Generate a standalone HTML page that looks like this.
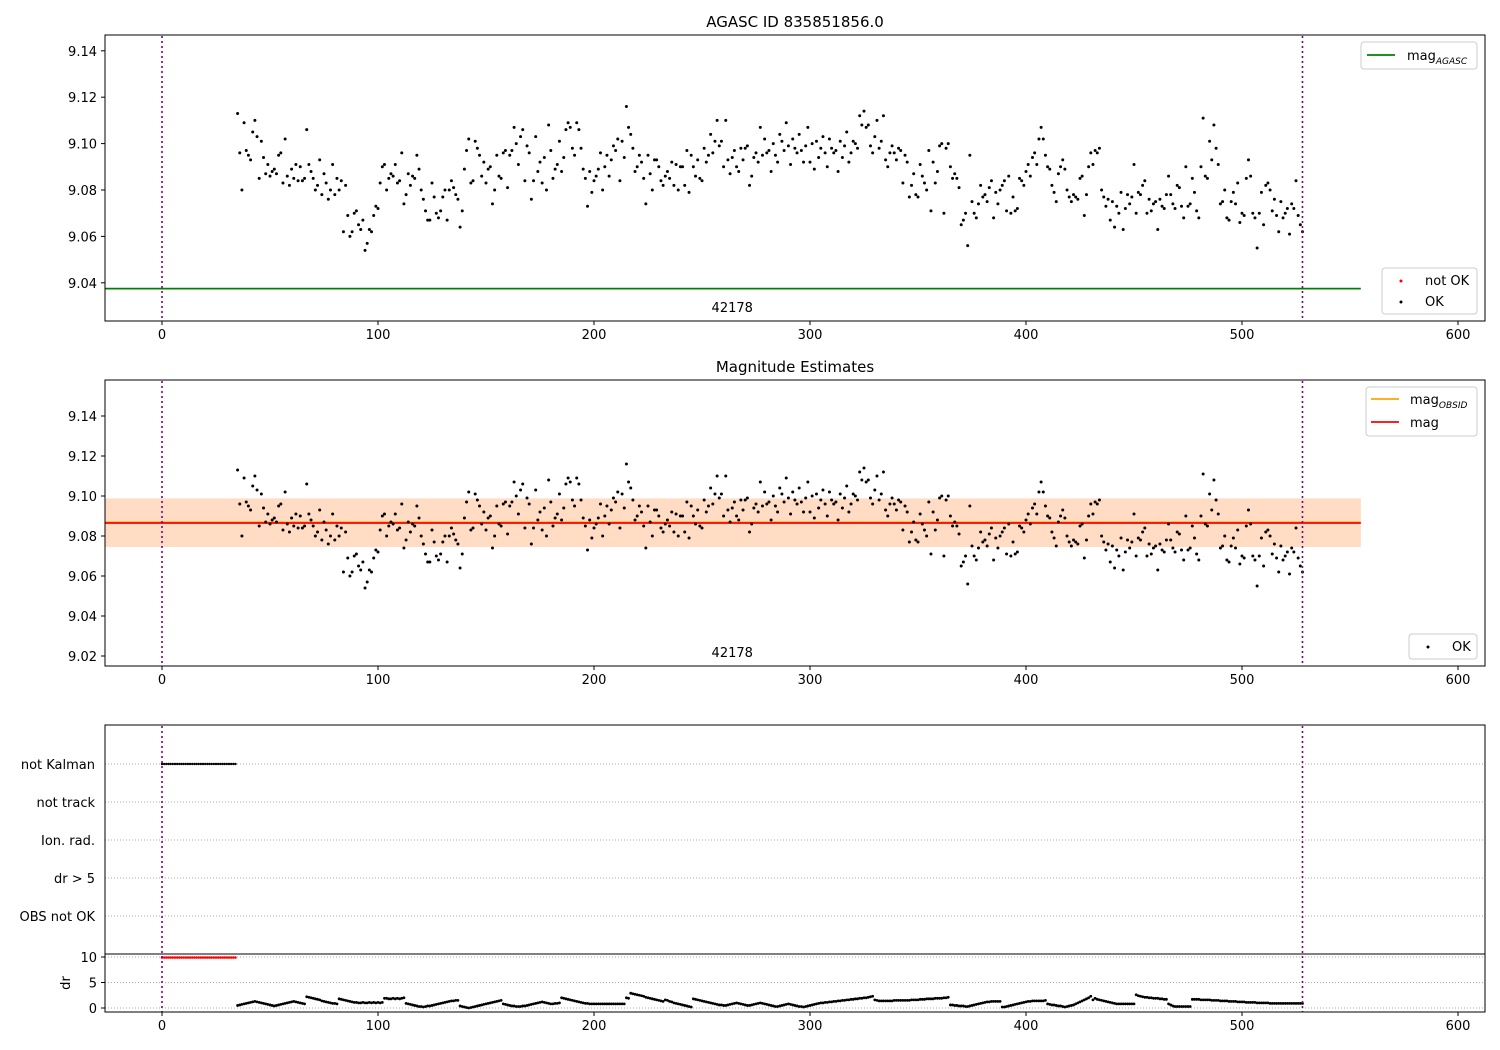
<!DOCTYPE html>
<html><head><meta charset="utf-8"><style>
body{margin:0;background:#fff}
svg{display:block;font-family:"DejaVu Sans","Liberation Sans",sans-serif}
</style></head><body>
<svg id="chart" width="1500" height="1050" viewBox="0 0 1500 1050" xmlns="http://www.w3.org/2000/svg">
<rect width="1500" height="1050" fill="#fff"/>
<g id="g"></g>
</svg>
<script>
const xStart = 35;
const magValues = [
9.113,9.096,9.080,9.109,9.097,9.095,9.093,9.105,9.110,9.103,
9.085,9.101,9.094,9.087,9.091,9.086,9.088,9.089,9.087,9.095,
9.096,9.083,9.102,9.086,9.082,9.089,9.085,9.091,9.084,9.090,
9.084,9.085,9.106,9.091,9.088,9.085,9.080,9.082,9.093,9.078,
9.087,9.083,9.076,9.080,9.091,9.078,9.085,9.080,9.084,9.062,
9.082,9.069,9.060,9.062,9.070,9.071,9.065,9.063,9.067,9.054,
9.057,9.063,9.062,9.069,9.073,9.072,9.083,9.090,9.091,9.080,
9.085,9.087,9.086,9.091,9.083,9.084,9.096,9.074,9.078,9.087,
9.082,9.086,9.085,9.095,9.089,9.080,9.076,9.071,9.067,9.067,
9.083,9.077,9.070,9.068,9.071,9.077,9.080,9.067,9.080,9.084,
9.081,9.078,9.076,9.064,9.071,9.089,9.097,9.102,9.083,9.084,
9.101,9.098,9.095,9.086,9.092,9.083,9.089,9.090,9.074,9.080,
9.095,9.086,9.085,9.096,9.097,9.081,9.095,9.097,9.107,9.100,
9.091,9.103,9.106,9.084,9.099,9.096,9.076,9.084,9.103,9.088,
9.092,9.083,9.094,9.080,9.108,9.097,9.085,9.089,9.091,9.101,
9.088,9.094,9.106,9.109,9.107,9.098,9.095,9.109,9.106,9.098,
9.089,9.085,9.073,9.088,9.079,9.084,9.086,9.089,9.096,9.080,
9.090,9.095,9.086,9.093,9.099,9.097,9.102,9.084,9.101,9.094,
9.116,9.107,9.104,9.098,9.088,9.090,9.095,9.092,9.085,9.074,
9.095,9.087,9.080,9.093,9.093,9.090,9.084,9.082,9.086,9.088,
9.085,9.092,9.082,9.091,9.080,9.090,9.090,9.082,9.097,9.079,
9.095,9.090,9.086,9.093,9.085,9.084,9.098,9.092,9.095,9.104,
9.096,9.101,9.110,9.099,9.101,9.090,9.110,9.093,9.087,9.094,
9.097,9.090,9.088,9.098,9.093,9.098,9.099,9.082,9.086,9.094,
9.096,9.092,9.107,9.095,9.102,9.096,9.097,9.088,9.100,9.095,
9.092,9.104,9.101,9.097,9.109,9.099,9.091,9.102,9.098,9.096,
9.104,9.097,9.092,9.099,9.107,9.092,9.100,9.089,9.101,9.094,
9.098,9.103,9.096,9.090,9.102,9.098,9.096,9.097,9.088,9.101,
9.094,9.099,9.105,9.092,9.096,9.101,9.100,9.098,9.112,9.108,
9.114,9.107,9.108,9.099,9.096,9.103,9.110,9.098,9.101,9.112,
9.093,9.090,9.096,9.099,9.096,9.093,9.098,9.097,9.083,9.095,
9.092,9.077,9.082,9.087,9.078,9.077,9.091,9.086,9.083,9.080,
9.097,9.071,9.092,9.083,9.088,9.099,9.100,9.070,9.098,9.100,
9.090,9.085,9.087,9.085,9.081,9.065,9.067,9.070,9.056,9.095,
9.075,9.070,9.068,9.074,9.082,9.077,9.078,9.075,9.081,9.084,
9.068,9.079,9.074,9.080,9.082,9.084,9.071,9.086,9.070,9.077,
9.071,9.072,9.085,9.084,9.082,9.088,9.091,9.086,9.094,9.096,
9.091,9.102,9.107,9.102,9.095,9.090,9.089,9.082,9.079,9.075,
9.087,9.090,9.093,9.089,9.080,9.077,9.075,9.078,9.077,9.076,
9.085,9.086,9.069,9.078,9.090,9.096,9.091,9.097,9.096,9.098,
9.080,9.077,9.073,9.076,9.067,9.075,9.064,9.073,9.070,9.079,
9.063,9.072,9.078,9.074,9.077,9.091,9.070,9.079,9.078,9.082,
9.084,9.070,9.076,9.071,9.074,9.075,9.063,9.076,9.073,9.072,
9.078,9.086,9.078,9.074,9.072,9.082,9.081,9.073,9.068,9.090,
9.073,9.074,9.085,9.079,9.071,9.068,9.090,
9.111,9.086,9.085,9.101,9.093,9.108,9.098,9.091,9.074,9.075,
9.080,9.068,9.067,9.075,9.079,9.074,9.083,9.066,9.070,9.069,
9.085,9.093,9.086,9.070,9.068,9.055,9.070,9.079,9.065,9.082,
9.083,9.080,9.071,9.076,9.069,9.062,9.075,9.068,9.070,9.072,
9.061,9.074,9.072,9.084,9.069,9.065,9.062];
const drValues = [
0.5,0.6,0.7,0.8,0.9,1.0,1.1,1.2,1.3,1.2,
1.1,1.0,0.9,0.8,0.7,0.6,0.5,0.4,0.5,0.6,
0.7,0.8,0.9,1.0,1.1,1.2,1.3,1.2,1.1,1.0,
0.9,0.8,2.2,2.1,2.0,1.9,1.8,1.7,1.6,1.4,
1.3,1.2,1.1,1.0,0.9,0.9,0.8,1.8,1.7,1.6,
1.5,1.4,1.3,1.2,1.1,1.1,1.0,1.0,1.1,1.0,
1.0,1.1,1.0,1.1,1.0,1.1,1.0,1.1,1.9,1.9,
1.8,1.8,1.9,1.8,1.9,1.8,1.9,2.0,0.9,0.8,
0.7,0.6,0.5,0.4,0.3,0.3,0.2,0.3,0.4,0.4,
0.5,0.6,0.7,0.8,0.9,1.0,1.1,1.2,1.3,1.4,
1.4,1.5,1.5,0.4,0.3,0.2,0.1,0.0,0.1,0.2,
0.3,0.4,0.5,0.6,0.7,0.8,0.9,1.0,1.1,1.2,
1.3,1.4,1.5,0.8,0.7,0.6,0.5,0.4,0.4,0.3,
0.3,0.3,0.4,0.4,0.5,0.6,0.7,0.8,0.9,1.0,
1.1,1.2,1.1,1.0,0.9,0.8,0.8,0.9,0.9,1.0,
2.0,1.9,1.8,1.7,1.6,1.5,1.4,1.3,1.2,1.1,
1.0,0.9,0.9,0.8,0.8,0.8,0.8,0.8,0.8,0.8,
0.8,0.8,0.8,0.8,0.8,0.8,0.8,0.8,0.8,0.8,
2.0,1.9,2.9,2.8,2.7,2.6,2.5,2.4,2.3,2.1,
2.0,1.9,1.8,1.7,1.6,1.5,1.4,1.3,1.6,1.5,
1.3,1.2,1.0,0.9,0.8,0.7,0.6,0.5,0.4,0.3,
0.2,1.8,1.7,1.6,1.5,1.4,1.3,1.2,1.1,1.0,
0.9,0.8,0.7,0.6,0.6,0.5,0.5,0.6,0.7,0.8,
0.9,1.0,0.9,0.8,0.7,0.6,0.5,0.5,0.6,0.7,
0.8,0.9,1.0,0.9,0.8,0.7,0.6,0.5,0.4,0.3,
0.3,0.4,0.5,0.6,0.7,0.8,0.7,0.6,0.5,0.4,
0.3,0.3,0.2,0.3,0.4,0.5,0.6,0.7,0.8,0.9,
1.0,1.0,1.1,1.1,1.2,1.2,1.3,1.3,1.4,1.4,
1.5,1.5,1.6,1.6,1.7,1.7,1.8,1.8,1.9,1.9,
2.0,2.0,2.1,2.2,2.3,1.6,1.5,1.4,1.4,1.4,
1.4,1.4,1.4,1.4,1.5,1.5,1.5,1.5,1.5,1.5,
1.5,1.5,1.6,1.6,1.6,1.6,1.7,1.7,1.7,1.8,
1.8,1.8,1.8,1.9,1.9,1.9,1.9,2.0,2.0,2.1,
0.6,0.6,0.5,0.5,0.4,0.4,0.4,0.3,0.3,0.4,
0.5,0.6,0.7,0.8,0.9,1.0,1.1,1.2,1.2,1.3,
1.3,1.3,1.3,1.3,0.2,0.2,0.3,0.4,0.5,0.6,
0.7,0.8,0.9,1.0,1.1,1.2,1.3,1.3,1.4,1.4,
1.4,1.4,1.4,1.4,1.5,0.8,0.7,0.6,0.6,0.5,
0.4,0.4,0.3,0.2,0.3,0.4,0.5,0.6,0.8,1.0,
1.2,1.4,1.6,1.8,2.0,2.3,1.6,1.9,1.7,1.6,
1.5,1.4,1.3,1.2,1.1,1.0,0.9,0.8,0.8,0.8,
0.8,0.8,0.8,0.8,0.8,0.8,2.6,2.4,2.3,2.2,
2.1,2.1,2.0,2.0,1.9,1.9,1.9,1.8,1.8,1.7,
1.7,0.8,0.6,0.4,0.3,0.3,0.3,0.3,0.3,0.3,
0.3,0.3,1.7,1.7,1.7,1.7,1.6,1.6,1.6,1.6,
1.6,1.5,1.5,1.5,1.5,1.4,1.4,1.4,1.4,1.3,
1.3,1.3,1.3,1.2,1.2,1.2,1.2,1.1,1.1,1.1,
1.1,1.1,1.0,1.0,1.0,1.0,1.0,1.0,0.9,0.9,
0.9,0.9,0.9,0.9,0.9,0.9,0.9,0.9,0.9,0.9,
0.9,0.9,0.9,0.9];
const notKalmanStart = 0, notKalmanEnd = 34;
const magAgasc = 9.0375;
const magObsid = 9.0868, magMean = 9.0865, magBandLow = 9.0745, magBandHigh = 9.0988;
const obsLines = [0, 528];
const xTicks = [0,100,200,300,400,500,600];
const y1Ticks = [9.04,9.06,9.08,9.10,9.12,9.14];
const y2Ticks = [9.02,9.04,9.06,9.08,9.10,9.12,9.14];
const flagLabels = ["not Kalman","not track","Ion. rad.","dr > 5","OBS not OK"];
const drTicks = [0,5,10];
const obsidLabel = "42178";

const NS="http://www.w3.org/2000/svg";
const G=document.getElementById('g');
function el(t,a,p){const e=document.createElementNS(NS,t);for(const k in a)e.setAttribute(k,a[k]);(p||G).appendChild(e);return e;}
const X=v=>162+v*2.16;
const Y1=v=>190-(v-9.08)*2320;
const Y2=v=>536-(v-9.08)*2000;
const YD=v=>1008-v*5.1;
const L=105,R=1485;
function frame(t,b,name){const r=el('rect',{x:L,y:t,width:R-L,height:b-t,fill:'none',stroke:'#000','stroke-width':1});}
function xAxis(b,name){const g=el('g',{});
 xTicks.forEach(v=>{el('line',{x1:X(v),x2:X(v),y1:b,y2:b+4,stroke:'#000'},g);const t=el('text',{x:X(v),y:b+18,'text-anchor':'middle','font-size':13},g);t.textContent=v;});}
function yAxis(ticks,f,name,fmt){const g=el('g',{});
 ticks.forEach(v=>{el('line',{x1:L-4,x2:L,y1:f(v),y2:f(v),stroke:'#000'},g);const t=el('text',{x:L-8,y:f(v)+5,'text-anchor':'end','font-size':13},g);t.textContent=fmt(v);});}
function title(txt,y,name){const t=el('text',{x:795,y:y,'text-anchor':'middle','font-size':15});t.textContent=txt;}
function vlines(t,b){obsLines.forEach(v=>{const l=el('line',{x1:X(v),x2:X(v),y1:t,y2:b,stroke:'#800080','stroke-width':1.6,'stroke-dasharray':'2,3'});});}
function dots(f,name){const g=el('g',{});
 magValues.forEach((v,i)=>{el('circle',{cx:X(xStart+i),cy:f(v),r:1.5,fill:'#000'},g);});}
function legend(x,y,w,h,name){const r=el('rect',{x:x,y:y,width:w,height:h,rx:3,fill:'#fff','fill-opacity':0.8,stroke:'#ccc'});}
function ltext(x,y,txt,sub){const t=el('text',{x:x,y:y,'font-size':13});t.textContent=txt;if(sub){const s=el('tspan',{'font-size':9,'font-style':'italic',dy:4},t);s.textContent=sub;}return t;}

// Panel 1
title("AGASC ID 835851856.0",27,'top-chart-title');
const ag=el('line',{x1:L,x2:X(555),y1:Y1(magAgasc),y2:Y1(magAgasc),stroke:'#008000','stroke-width':1.8});

dots(Y1,'top-ok-points');
vlines(36,321);
frame(35,321,'top-plot-area');xAxis(321,'top-x-axis');yAxis(y1Ticks,Y1,'top-y-axis',v=>v.toFixed(2));
let t=el('text',{x:X(264),y:312,'text-anchor':'middle','font-size':13});t.textContent=obsidLabel;
legend(1361,42,116,27,'top-legend');
el('line',{x1:1367,x2:1395,y1:55,y2:55,stroke:'#008000','stroke-width':1.8});ltext(1407,60,'mag','AGASC');
legend(1382,268,95,46,'top-status-legend');
el('circle',{cx:1401,cy:281,r:1.5,fill:'#f00'});ltext(1425,285,'not OK');
el('circle',{cx:1401,cy:302,r:1.5,fill:'#000'});ltext(1425,306,'OK');

// Panel 2
title("Magnitude Estimates",372,'middle-chart-title');
const bp=el('rect',{x:L,y:Y2(magBandHigh),width:X(555)-L,height:Y2(magBandLow)-Y2(magBandHigh),fill:'#ff0000','fill-opacity':0.1});
const bo=el('rect',{x:L,y:Y2(magBandHigh),width:X(555)-L,height:Y2(magBandLow)-Y2(magBandHigh),fill:'#ffa500','fill-opacity':0.15});
const lo=el('line',{x1:L,x2:X(555),y1:Y2(magObsid),y2:Y2(magObsid),stroke:'#ffa500','stroke-width':1.8});
const lm=el('line',{x1:L,x2:X(555),y1:Y2(magMean),y2:Y2(magMean),stroke:'#f00','stroke-width':1.8});
dots(Y2,'middle-ok-points');
vlines(381,666);
frame(380,666,'middle-plot-area');xAxis(666,'middle-x-axis');yAxis(y2Ticks,Y2,'middle-y-axis',v=>v.toFixed(2));
t=el('text',{x:X(264),y:657,'text-anchor':'middle','font-size':13});t.textContent=obsidLabel;
legend(1366,387,111,49,'middle-legend');
el('line',{x1:1371,x2:1399,y1:399,y2:399,stroke:'#ffa500','stroke-width':1.8});ltext(1410,404,'mag','OBSID');
el('line',{x1:1371,x2:1399,y1:422,y2:422,stroke:'#f00','stroke-width':1.8});ltext(1410,427,'mag');
legend(1409,634,68,25,'middle-status-legend');
el('circle',{cx:1428,cy:647,r:1.5,fill:'#000'});ltext(1452,651,'OK');

// Panel 3 flags
const flagY=i=>764+i*38;
flagLabels.forEach((s,i)=>{el('line',{x1:L,x2:R,y1:flagY(i),y2:flagY(i),stroke:'#aaa','stroke-dasharray':'1,2'});
 const tt=el('text',{x:L-10,y:flagY(i)+5,'text-anchor':'end','font-size':13});tt.textContent=s;});
const nk=el('g',{});
for(let x=notKalmanStart;x<=notKalmanEnd;x++)el('circle',{cx:X(x),cy:flagY(0),r:1.2,fill:'#000'},nk);
drTicks.forEach(v=>el('line',{x1:L,x2:R,y1:YD(v),y2:YD(v),stroke:'#aaa','stroke-dasharray':'1,2'}));
const dd=el('g',{});
drValues.forEach((v,i)=>el('circle',{cx:X(xStart+i),cy:YD(v),r:1.4,fill:'#000'},dd));
const dr=el('g',{});
for(let x=notKalmanStart;x<=notKalmanEnd;x++)el('circle',{cx:X(x),cy:957.5,r:1.3,fill:'#f00'},dr);
vlines(726,1012);
frame(725,1012,'flags-plot-area');
el('line',{x1:L,x2:R,y1:954,y2:954,stroke:'#000'});
xAxis(1012,'bottom-x-axis');yAxis(drTicks,YD,'dr-y-axis',v=>v);
t=el('text',{x:70,y:983,'text-anchor':'middle','font-size':13,transform:'rotate(-90 70 983)'});t.textContent='dr';
</script>
</body></html>
